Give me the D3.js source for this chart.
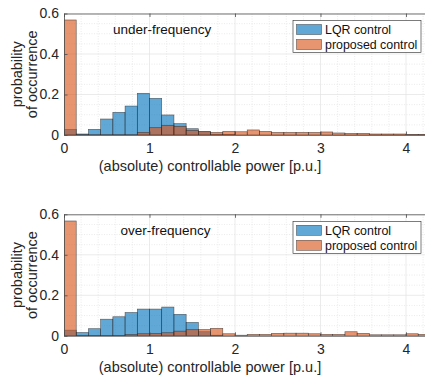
<!DOCTYPE html>
<html>
<head>
<meta charset="utf-8">
<script src="https://cdn.jsdelivr.net/npm/d3@7"></script>
<style>
  body { margin: 0; background: #fff; }
  svg { font-family: "Liberation Sans", Arial, sans-serif; }
</style>
</head>
<body>
<script>
// histogram bins are 1/7 wide, starting at 0
const binWidth = 1 / 7;
const xTicks = [0, 1, 2, 3, 4];
const yTicks = [0, 0.2, 0.4, 0.6];
const seriesNames = ["LQR control", "proposed control"];

const underLQR = [0.028, 0.005, 0.028, 0.079, 0.112, 0.143, 0.206, 0.181, 0.099, 0.056,
                  0.031, 0.016, 0.004, 0.002, 0, 0, 0, 0, 0, 0,
                  0, 0, 0, 0, 0, 0, 0, 0, 0, 0];
const underProposed = [0.568, 0.001, 0.001, 0.001, 0.001, 0.001, 0.013, 0.036, 0.048, 0.043,
                       0.023, 0.018, 0.013, 0.018, 0.016, 0.025, 0.018, 0.013, 0.013, 0.013,
                       0.013, 0.015, 0.010, 0.008, 0.008, 0.005, 0.005, 0.005, 0.003, 0.003];

const overLQR = [0.028, 0.016, 0.035, 0.082, 0.094, 0.115, 0.132, 0.132, 0.142, 0.106,
                 0.066, 0.020, 0.003, 0, 0, 0, 0, 0, 0, 0,
                 0, 0, 0, 0, 0, 0, 0, 0, 0, 0];
const overProposed = [0.567, 0.001, 0.001, 0.001, 0.001, 0.006, 0.010, 0.012, 0.015, 0.023,
                      0.030, 0.031, 0.037, 0.010, 0.003, 0.007, 0.007, 0.012, 0.013, 0.013,
                      0.010, 0.007, 0.007, 0.020, 0.012, 0.005, 0.005, 0.005, 0.010, 0.007];

const W = 425, H = 378;
const colors = ["rgb(0,114,189)", "rgb(217,83,25)"];

const svg = d3.select("body").append("svg")
  .attr("width", W)
  .attr("height", H);

function panel(top, title, titleX, lqr, prop, id) {
  const left = 64, right = 425.5;
  const h = 121.5;

  const x = d3.scaleLinear().domain([0, (right - left) / 85.5]).range([left, right]);
  const y = d3.scaleLinear().domain([0, 0.6]).range([top + h, top]);

  const g = svg.append("g");

  g.append("clipPath").attr("id", "clip" + id)
    .append("rect").attr("x", left).attr("y", top).attr("width", right - left).attr("height", h);

  // grid: minor dotted, major solid
  const minorX = d3.range(0, 4.3, 0.2).filter(v => Math.abs(v - Math.round(v)) > 1e-6);
  const minorY = d3.range(0, 0.6, 0.05).filter(v => Math.abs(v * 5 - Math.round(v * 5)) > 1e-6);
  const grid = g.append("g").attr("clip-path", `url(#clip${id})`);
  grid.selectAll(".mx").data(minorX).enter().append("line")
    .attr("x1", d => x(d)).attr("x2", d => x(d)).attr("y1", top).attr("y2", top + h)
    .attr("stroke", "#dedede").attr("stroke-width", 0.6).attr("stroke-dasharray", "1,1.5");
  grid.selectAll(".my").data(minorY).enter().append("line")
    .attr("x1", left).attr("x2", right).attr("y1", d => y(d)).attr("y2", d => y(d))
    .attr("stroke", "#dedede").attr("stroke-width", 0.6).attr("stroke-dasharray", "1,1.5");
  grid.selectAll(".Mx").data(xTicks).enter().append("line")
    .attr("x1", d => x(d)).attr("x2", d => x(d)).attr("y1", top).attr("y2", top + h)
    .attr("stroke", "#e3e3e3").attr("stroke-width", 0.7);
  grid.selectAll(".My").data(yTicks).enter().append("line")
    .attr("x1", left).attr("x2", right).attr("y1", d => y(d)).attr("y2", d => y(d))
    .attr("stroke", "#e3e3e3").attr("stroke-width", 0.7);

  // bars
  const bars = g.append("g").attr("clip-path", `url(#clip${id})`);
  [lqr, prop].forEach((vals, s) => {
    bars.append("g").selectAll("rect").data(vals).enter().append("rect")
      .attr("x", (d, i) => x(i * binWidth))
      .attr("width", (d, i) => x((i + 1) * binWidth) - x(i * binWidth))
      .attr("y", d => y(d))
      .attr("height", d => y(0) - y(d))
      .attr("fill", colors[s])
      .attr("fill-opacity", 0.62)
      .attr("stroke", "#222")
      .attr("stroke-opacity", 0.7)
      .attr("stroke-width", 0.6);
  });

  // axes
  const xAxis = d3.axisBottom(x).tickValues(xTicks).tickFormat(d3.format("d"))
    .tickSizeInner(-3.5).tickSizeOuter(0).tickPadding(8);
  const yAxis = d3.axisLeft(y).tickValues(yTicks).tickFormat(d => d === 0 ? "0" : d3.format(".1f")(d))
    .tickSizeInner(-3.5).tickSizeOuter(0).tickPadding(5);

  const ax = g.append("g").attr("transform", `translate(0,${top + h})`).call(xAxis);
  const ay = g.append("g").attr("transform", `translate(${left},0)`).call(yAxis);
  const axTop = g.append("g").attr("transform", `translate(0,${top})`)
    .call(d3.axisTop(x).tickValues(xTicks).tickFormat("").tickSizeInner(-3.5).tickSizeOuter(0));
  [ax, ay, axTop].forEach(a => {
    a.select(".domain").attr("stroke", "#4d4d4d").attr("stroke-width", 0.8);
    a.selectAll(".tick line").attr("stroke", "#4d4d4d").attr("stroke-width", 0.8);
    a.selectAll(".tick text").attr("fill", "#262626").style("font-size", "14px")
      .style("font-family", "Liberation Sans, Arial, sans-serif");
  });

  // labels
  g.append("text")
    .attr("x", 210).attr("y", top + h + 36)
    .attr("text-anchor", "middle")
    .attr("fill", "#262626")
    .style("font-size", "14.5px")
    .text("(absolute) controllable power [p.u.]");

  const yl = g.append("text")
    .attr("transform", `translate(22,${top + h / 2}) rotate(-90)`)
    .attr("text-anchor", "middle")
    .attr("fill", "#262626")
    .style("font-size", "14.5px");
  yl.append("tspan").attr("x", 0).attr("y", 0).text("probability");
  yl.append("tspan").attr("x", 0).attr("y", 15).text("of occurrence");

  g.append("text")
    .attr("x", titleX).attr("y", top + 20.5)
    .attr("fill", "#111")
    .style("font-size", "13.5px")
    .text(title);

  // legend
  const lg = g.append("g").attr("transform", `translate(293,${top + 7})`);
  lg.append("rect").attr("width", 128).attr("height", 32)
    .attr("fill", "#fff").attr("stroke", "#262626").attr("stroke-width", 0.6);
  seriesNames.forEach((name, i) => {
    lg.append("rect")
      .attr("x", 3.5).attr("y", 4 + i * 15).attr("width", 25).attr("height", 10)
      .attr("fill", colors[i]).attr("fill-opacity", 0.62)
      .attr("stroke", "#222").attr("stroke-opacity", 0.7).attr("stroke-width", 0.6);
    lg.append("text")
      .attr("x", 32).attr("y", 13.5 + i * 15)
      .attr("fill", "#111")
      .style("font-size", "12.4px")
      .text(name);
  });
}

panel(13.5, "under-frequency", 113, underLQR, underProposed, 1);
panel(214.3, "over-frequency", 120.5, overLQR, overProposed, 2);
</script>
</body>
</html>
